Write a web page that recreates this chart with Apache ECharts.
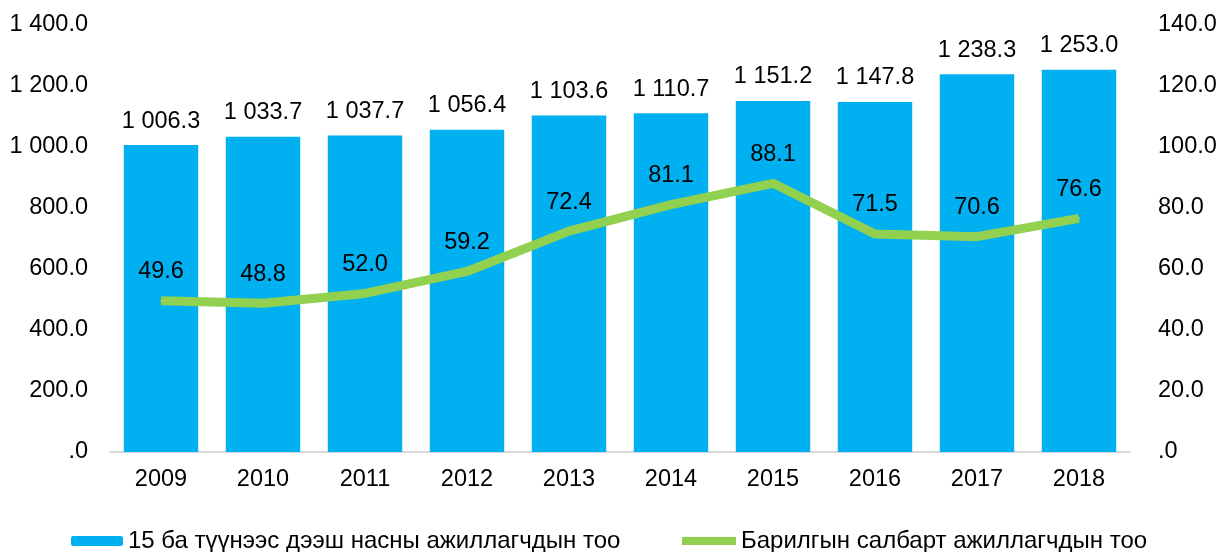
<!DOCTYPE html>
<html>
<head>
<meta charset="utf-8">
<script src="https://cdn.jsdelivr.net/npm/echarts@6/dist/echarts.min.js"></script>
<style>html,body{margin:0;padding:0;background:#fff}#c{width:1220px;height:552px}</style>
</head>
<body>
<div id="c"></div>
<script>
const categories = ['2009','2010','2011','2012','2013','2014','2015','2016','2017','2018'];
const employed = [1006.3, 1033.7, 1037.7, 1056.4, 1103.6, 1110.7, 1151.2, 1147.8, 1238.3, 1253.0];
const construction = [49.6, 48.8, 52.0, 59.2, 72.4, 81.1, 88.1, 71.5, 70.6, 76.6];
const seriesNames = ['15 ба түүнээс дээш насны ажиллагчдын тоо', 'Барилгын салбарт ажиллагчдын тоо'];

function fmt(v) {
  const s = Number(v).toFixed(1);
  let [i, d] = s.split('.');
  if (i === '0') i = '';
  i = i.replace(/\B(?=(\d{3})+(?!\d))/g, ' ');
  return i + '.' + d;
}
const FONT = 'Liberation Sans, Arial, sans-serif';
const FS = 23.5;
const chart = echarts.init(document.getElementById('c'));
chart.setOption({
  animation: false,
  textStyle: {fontFamily: FONT},
  grid: {left: 110, right: 90, top: 25, bottom: 100},
  legend: [
    {data: [seriesNames[0]], left: 66, top: 524, itemWidth: 52, itemHeight: 10, itemGap: 0,
     textStyle: {fontSize: 24, color: '#000', fontFamily: FONT}, selectedMode: false},
    {data: [{name: seriesNames[1], icon: 'rect'}], left: 677, top: 524, itemWidth: 54, itemHeight: 8, itemGap: 0,
     textStyle: {fontSize: 24, color: '#000', fontFamily: FONT}, selectedMode: false}
  ],
  xAxis: {
    type: 'category', data: categories,
    axisLine: {lineStyle: {color: '#d9d9d9', width: 2}},
    axisTick: {show: false},
    axisLabel: {fontSize: FS, color: '#000', margin: 16, fontFamily: FONT}
  },
  yAxis: [
    {type: 'value', min: 0, max: 1400, interval: 200,
     splitLine: {show: false}, axisLine: {show: false}, axisTick: {show: false},
     axisLabel: {fontSize: FS, color: '#000', margin: 22, formatter: fmt, fontFamily: FONT}},
    {type: 'value', min: 0, max: 140, interval: 20,
     splitLine: {show: false}, axisLine: {show: false}, axisTick: {show: false},
     axisLabel: {fontSize: FS, color: '#000', margin: 28, formatter: fmt, fontFamily: FONT}}
  ],
  series: [
    {name: seriesNames[0], type: 'bar', data: employed, barWidth: '73%',
     itemStyle: {color: '#00B0F0'},
     label: {show: true, position: 'top', distance: 12, fontSize: FS, color: '#000', formatter: p => fmt(p.value), fontFamily: FONT}},
    {name: seriesNames[1], type: 'line', yAxisIndex: 1, data: construction,
     symbol: 'circle', symbolSize: 2, showSymbol: true,
     lineStyle: {color: '#92D050', width: 9, join: 'round', cap: 'butt'},
     itemStyle: {color: '#92D050'},
     label: {show: true, position: 'top', distance: 16, fontSize: FS, color: '#000', formatter: p => fmt(p.value), fontFamily: FONT},
     z: 3}
  ]
});
</script>
</body>
</html>
